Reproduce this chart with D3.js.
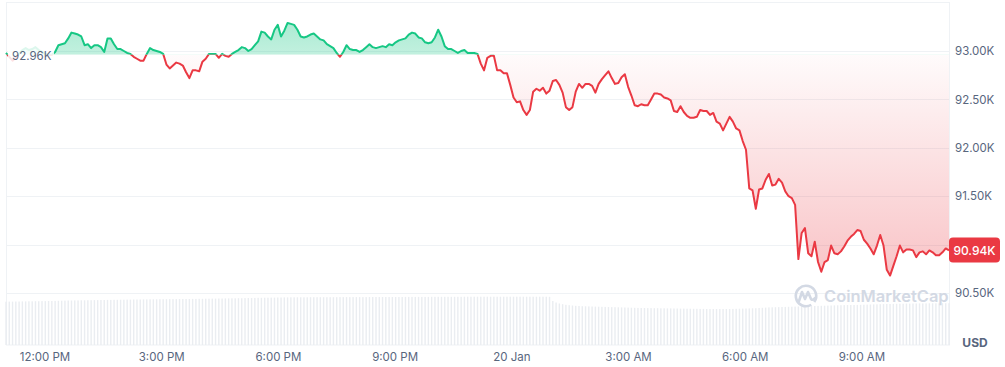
<!DOCTYPE html>
<html>
<head>
<meta charset="utf-8">
<script src="https://cdn.jsdelivr.net/npm/d3@7"></script>
<style>
  html, body { margin: 0; padding: 0; background: #fff; }
  svg { display: block; font-family: Inter, "Noto Sans", sans-serif; }
</style>
</head>
<body>
<svg id="chart" width="1005" height="367"></svg>
<script>
// BTC / USD, last 24h, roughly 5 minute points
const START = new Date(2025, 0, 19, 11, 0, 40);
const STEP_SEC = 303;
const BASELINE = 92960;

const prices = [
  92980, 92940, 92900, 92930, 92970, 93010, 93030, 93010, 93020, 93040,
  93010, 92990, 92970, 92960, 92960, 92990, 93060, 93070, 93080, 93130,
  93190, 93180, 93170, 93150, 93060, 93070, 93030, 93060, 93060, 93040,
  92990, 93130, 93130, 93070, 93020, 93020, 93000, 92980, 92970, 92940,
  92920, 92900, 92900, 92970, 93030, 93010, 93000, 92990, 92970, 92860,
  92820, 92850, 92880, 92870, 92850, 92780, 92720, 92800, 92800, 92790,
  92890, 92920, 92970, 92970, 92970, 92930, 92970, 92950, 92940, 92970,
  92990, 93010, 93040, 93030, 93000, 93020, 93060, 93100, 93200, 93190,
  93150, 93120, 93220, 93270, 93150, 93210, 93290, 93280, 93270, 93220,
  93150, 93140, 93150, 93170, 93180, 93150, 93120, 93110, 93070, 93050,
  93030, 92980, 92940, 92990, 93060, 93020, 93010, 93010, 92990, 93010,
  93040, 93070, 93040, 93030, 93040, 93050, 93040, 93070, 93060, 93090,
  93110, 93120, 93130, 93170, 93190, 93180, 93140, 93130, 93090, 93080,
  93090, 93140, 93220, 93150, 93050, 93020, 93020, 93000, 92980, 93000,
  93010, 92980, 92980, 92980, 92970, 92870, 92800, 92930, 92950, 92950,
  92800, 92800, 92770, 92770, 92650, 92520, 92470, 92480, 92390, 92340,
  92390, 92580, 92610, 92590, 92620, 92560, 92590, 92690, 92700, 92650,
  92570, 92420, 92390, 92420, 92580, 92660, 92620, 92660, 92660, 92640,
  92570, 92660, 92710, 92750, 92790, 92720, 92660, 92670, 92730, 92760,
  92630, 92540, 92440, 92430, 92450, 92440, 92440, 92500, 92560, 92560,
  92550, 92520, 92510, 92490, 92380, 92370, 92430, 92370, 92330, 92310,
  92310, 92320, 92390, 92380, 92380, 92340, 92360, 92270, 92250, 92180,
  92250, 92320, 92270, 92200, 92180, 92070, 91980, 91580, 91560, 91370,
  91570, 91580, 91670, 91730, 91610, 91620, 91680, 91640, 91550, 91500,
  91480, 91410, 90850, 91120, 91170, 90910, 90880, 91030, 90820, 90720,
  90820, 90840, 90990, 90910, 90900, 90930, 90980, 91040, 91080, 91110,
  91150, 91140, 91050, 91010, 90960, 90900, 90990, 91100, 90990, 90740,
  90680, 90780, 90880, 90990, 90920, 90950, 90950, 90940, 90870, 90920,
  90930, 90900, 90940, 90920, 90890, 90890, 90920, 90960, 90940
];

// rolling volume, billions USD
const volumes = [
  43.3, 43.4, 43.4, 43.5, 43.5, 43.6, 43.6, 43.7, 43.7, 43.8,
  43.8, 43.9, 43.9, 44.0, 44.0, 44.1, 44.2, 44.3, 44.4, 44.5,
  44.5, 44.6, 44.6, 44.7, 44.7, 44.8, 44.8, 44.9, 44.9, 45.0,
  45.0, 45.1, 45.1, 45.2, 45.2, 45.3, 45.3, 45.4, 45.4, 45.5,
  45.5, 45.5, 45.6, 45.6, 45.7, 45.7, 45.7, 45.8, 45.8, 45.8,
  45.9, 45.9, 45.9, 46.0, 46.0, 46.0, 46.0, 46.1, 46.1, 46.2,
  46.2, 46.3, 46.3, 46.4, 46.4, 46.5, 46.5, 46.6, 46.6, 46.7,
  46.7, 46.8, 46.8, 46.9, 47.0, 47.0, 47.1, 47.2, 47.2, 47.3,
  47.3, 47.4, 47.4, 47.5, 47.5, 47.6, 47.6, 47.7, 47.7, 47.7,
  47.7, 47.7, 47.7, 47.8, 47.8, 47.8, 47.8, 47.8, 47.8, 47.8,
  47.8, 47.8, 47.9, 47.9, 47.9, 47.9, 47.9, 47.9, 47.9, 47.9,
  47.9, 48.0, 48.0, 48.0, 48.0, 48.0, 48.0, 48.0, 48.0, 48.0,
  48.0, 48.0, 48.1, 48.1, 48.1, 48.1, 48.1, 48.1, 48.1, 48.1,
  48.2, 48.2, 48.2, 48.2, 48.2, 48.2, 48.2, 48.2, 48.2, 48.2,
  48.3, 48.3, 48.3, 48.3, 48.3, 48.3, 48.3, 48.3, 48.3, 48.3,
  48.3, 48.3, 48.3, 48.3, 48.3, 48.3, 48.3, 48.3, 48.3, 48.3,
  48.3, 48.3, 48.3, 48.3, 48.3, 48.3, 48.2, 44.0, 42.5, 41.5,
  40.8, 40.2, 39.8, 39.5, 39.2, 39.0, 38.8, 38.7, 38.6, 38.5,
  38.4, 38.3, 38.2, 38.1, 38.0, 37.9, 37.8, 37.7, 37.6, 37.5,
  37.4, 37.3, 37.2, 37.1, 37.0, 37.0, 36.9, 36.9, 36.8, 36.8,
  36.7, 36.7, 36.6, 36.6, 36.5, 36.5, 36.4, 36.4, 36.3, 36.3,
  36.2, 36.2, 36.1, 36.1, 36.0, 36.0, 36.0, 36.0, 36.0, 36.0,
  36.0, 36.0, 36.1, 36.2, 36.3, 36.4, 36.5, 36.6, 36.7, 36.8,
  37.0, 37.2, 37.4, 37.6, 37.7, 37.8, 37.9, 38.0, 38.1, 38.2,
  38.3, 38.4, 38.5, 38.6, 38.7, 38.8, 38.9, 39.0, 39.1, 39.2,
  39.3, 39.4, 39.5, 39.6, 39.7, 39.8, 39.9, 40.0, 40.0, 40.0,
  40.1, 40.2, 40.3, 40.4, 40.5, 40.6, 40.7, 40.8, 40.9, 41.0,
  41.0, 41.1, 41.2, 41.3, 41.3, 41.4, 41.4, 41.5, 41.5, 41.6,
  41.6, 41.6, 41.7, 41.7, 41.7, 41.7, 41.8, 41.8, 41.8
];

const yTicks = [90500, 91000, 91500, 92000, 92500, 93000];

const GREEN = '#16c784';
const RED = '#ea3943';
const GRID = '#eff2f5';
const TEXT = '#58667e';

const data = prices.map((p, i) => ({
  t: new Date(START.getTime() + i * STEP_SEC * 1000),
  p: p,
  v: volumes[i]
}));

const plot = {left: 6, right: 949, top: 2.5, bottom: 345};

const x = d3.scaleTime()
  .domain(d3.extent(data, d => d.t))
  .range([plot.left, plot.right]);

const y = d3.scaleLinear()
  .domain([90500, 93000])
  .range([293, 51]);

const yVol = d3.scaleLinear()
  .domain([0, 50])
  .range([plot.bottom, plot.bottom - 50]);

const svg = d3.select('#chart');
const defs = svg.append('defs');
const baseY = y(BASELINE);
const last = data[data.length - 1];
const lastY = y(last.p);

// gradients for the two fills
const gGreen = defs.append('linearGradient')
  .attr('id', 'fill-green')
  .attr('gradientUnits', 'userSpaceOnUse')
  .attr('x1', 0).attr('x2', 0)
  .attr('y1', y(d3.max(prices))).attr('y2', baseY);
gGreen.append('stop').attr('offset', 0).attr('stop-color', GREEN).attr('stop-opacity', 0.36);
gGreen.append('stop').attr('offset', 1).attr('stop-color', GREEN).attr('stop-opacity', 0.26);

const gRed = defs.append('linearGradient')
  .attr('id', 'fill-red')
  .attr('gradientUnits', 'userSpaceOnUse')
  .attr('x1', 0).attr('x2', 0)
  .attr('y1', baseY).attr('y2', y(d3.min(prices)));
gRed.append('stop').attr('offset', 0).attr('stop-color', RED).attr('stop-opacity', 0.02);
gRed.append('stop').attr('offset', 1).attr('stop-color', RED).attr('stop-opacity', 0.3);

defs.append('clipPath').attr('id', 'clip-up')
  .append('rect')
  .attr('x', 0).attr('y', 0)
  .attr('width', 1005).attr('height', baseY);

defs.append('clipPath').attr('id', 'clip-down')
  .append('rect')
  .attr('x', 0).attr('y', baseY)
  .attr('width', 1005).attr('height', 367 - baseY);

// frame + grid
svg.append('rect')
  .attr('x', plot.left + 0.5).attr('y', plot.top)
  .attr('width', plot.right - plot.left).attr('height', plot.bottom - plot.top)
  .attr('fill', 'none').attr('stroke', GRID);

svg.append('g').selectAll('line')
  .data(yTicks)
  .enter().append('line')
  .attr('x1', plot.left).attr('x2', plot.right)
  .attr('y1', d => Math.round(y(d)) + 0.5).attr('y2', d => Math.round(y(d)) + 0.5)
  .attr('stroke', GRID);

// volume bars
svg.append('g').selectAll('rect')
  .data(data)
  .enter().append('rect')
  .attr('x', d => x(d.t) - 0.7)
  .attr('y', d => yVol(d.v))
  .attr('width', 1.4)
  .attr('height', d => plot.bottom - yVol(d.v))
  .attr('fill', '#eaedf1');

// watermark
const wm = svg.append('g').attr('fill', 'none').attr('stroke', '#d3d9e4');
wm.append('path')
  .attr('stroke-width', 2.6)
  .attr('stroke-linecap', 'round')
  .attr('d', d3.arc()({innerRadius: 10.2, outerRadius: 10.2, startAngle: 2.6, endAngle: 2 * Math.PI + 2.2}))
  .attr('transform', 'translate(806,296)');
wm.append('path')
  .attr('stroke-width', 2.6)
  .attr('stroke-linecap', 'round')
  .attr('stroke-linejoin', 'round')
  .attr('d', 'M799,301 L802,292 L805,299 L808,292 L811,299 Q813,301 815,298');
svg.append('text')
  .attr('x', 824).attr('y', 296)
  .attr('dominant-baseline', 'central')
  .attr('font-size', 16.5).attr('font-weight', 600)
  .attr('fill', '#d3d9e4')
  .text('CoinMarketCap');

// price area + line
const area = d3.area()
  .x(d => x(d.t))
  .y0(baseY)
  .y1(d => y(d.p));

const line = d3.line()
  .x(d => x(d.t))
  .y(d => y(d.p));

svg.append('path').datum(data)
  .attr('clip-path', 'url(#clip-up)')
  .attr('fill', 'url(#fill-green)')
  .attr('d', area);

svg.append('path').datum(data)
  .attr('clip-path', 'url(#clip-down)')
  .attr('fill', 'url(#fill-red)')
  .attr('d', area);

svg.append('path').datum(data)
  .attr('clip-path', 'url(#clip-up)')
  .attr('fill', 'none').attr('stroke', GREEN).attr('stroke-width', 2)
  .attr('stroke-linejoin', 'round')
  .attr('d', line);

svg.append('path').datum(data)
  .attr('clip-path', 'url(#clip-down)')
  .attr('fill', 'none').attr('stroke', RED).attr('stroke-width', 2)
  .attr('stroke-linejoin', 'round')
  .attr('d', line);

// baseline label
svg.append('rect')
  .attr('x', 8).attr('y', baseY - 9)
  .attr('width', 46).attr('height', 19)
  .attr('fill', '#fff').attr('fill-opacity', 0.85);
svg.append('text')
  .attr('x', 12).attr('y', baseY + 1)
  .attr('dominant-baseline', 'central')
  .attr('font-size', 11.5).attr('fill', TEXT)
  .text((BASELINE / 1000).toFixed(2) + 'K');

// y axis (the tick hidden under the price tag is left out)
const yAxis = svg.append('g')
  .attr('transform', `translate(${plot.right},0)`)
  .call(d3.axisRight(y).tickValues(yTicks.filter(d => Math.abs(y(d) - lastY) > 16))
    .tickSize(0).tickPadding(6)
    .tickFormat(d => (d / 1000).toFixed(2) + 'K'));
yAxis.select('.domain').remove();
yAxis.selectAll('text')
  .attr('font-family', 'Inter, "Noto Sans", sans-serif')
  .attr('font-size', 11.5).attr('fill', TEXT);

// x axis
const fmtTime = d3.timeFormat('%-I:%M %p');
const fmtDay = d3.timeFormat('%-d %b');
const xAxis = svg.append('g')
  .attr('transform', 'translate(0,353)')
  .call(d3.axisBottom(x).ticks(d3.timeHour.every(3)).tickSize(0).tickPadding(0)
    .tickFormat(d => d.getHours() === 0 ? fmtDay(d) : fmtTime(d)));
xAxis.select('.domain').remove();
xAxis.selectAll('text')
  .attr('font-family', 'Inter, "Noto Sans", sans-serif')
  .attr('font-size', 11.5).attr('fill', TEXT);

svg.append('text')
  .attr('x', 975).attr('y', 342)
  .attr('text-anchor', 'middle').attr('dominant-baseline', 'central')
  .attr('font-size', 12).attr('font-weight', 700).attr('fill', TEXT)
  .text('USD');

// current price tag
svg.append('rect')
  .attr('x', plot.right).attr('y', lastY - 13)
  .attr('width', 51).attr('height', 25).attr('rx', 4)
  .attr('fill', RED);
svg.append('text')
  .attr('x', plot.right + 25.5).attr('y', lastY)
  .attr('text-anchor', 'middle').attr('dominant-baseline', 'central')
  .attr('font-size', 12).attr('font-weight', 500).attr('fill', '#fff')
  .text((last.p / 1000).toFixed(2) + 'K');
</script>
</body>
</html>
